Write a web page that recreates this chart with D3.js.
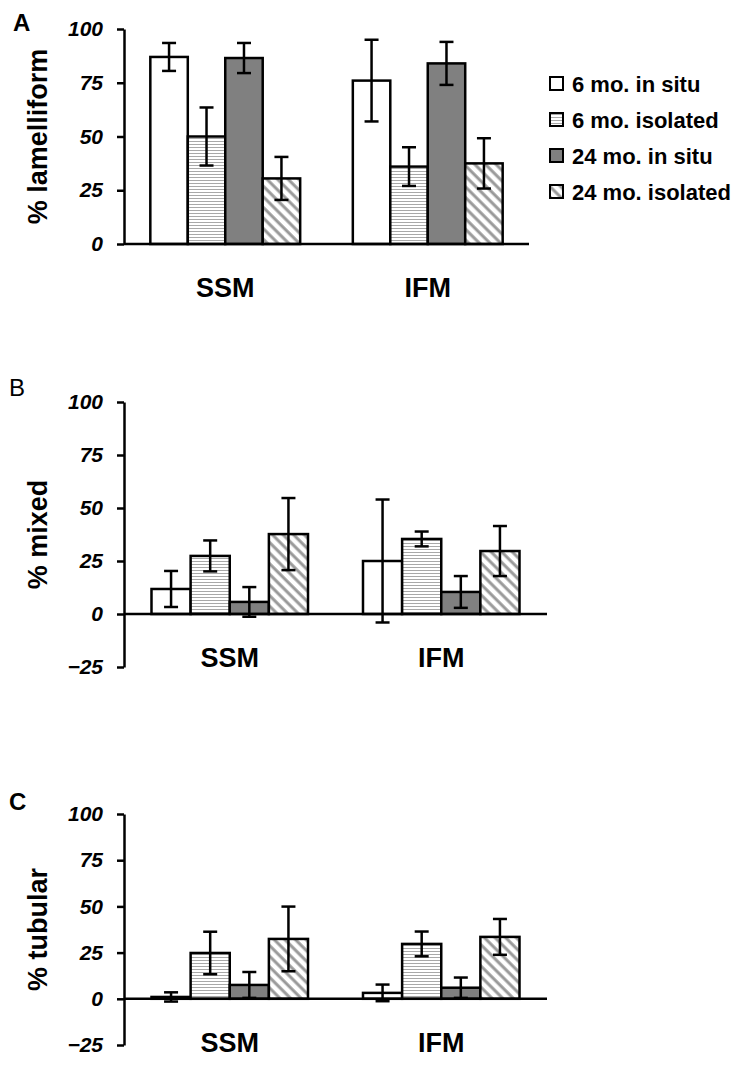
<!DOCTYPE html>
<html>
<head>
<meta charset="utf-8">
<script src="https://cdn.jsdelivr.net/npm/d3@7"></script>
<style>
  html, body { margin: 0; padding: 0; background: #fff; }
  svg { display: block; font-family: "Liberation Sans", Arial, sans-serif; }
</style>
</head>
<body>
<svg id="chart" width="745" height="1073"></svg>
<script>
// ---- Data ----
const categories = ["SSM", "IFM"];
const seriesNames = ["6 mo. in situ", "6 mo. isolated", "24 mo. in situ", "24 mo. isolated"];
const yTicksA = [0, 25, 50, 75, 100];
const yTicksBC = [-25, 0, 25, 50, 75, 100];

// rows = series (in seriesNames order), columns = categories (SSM, IFM)
const lamelliformMeans = [[87, 76], [50, 36], [86.5, 84], [30.5, 37.5]];
const lamelliformErrors = [[6.5, 19], [13.5, 9], [7, 10], [10, 11.7]];

const mixedMeans = [[11.8, 25], [27.4, 35.4], [5.7, 10.4], [37.7, 29.7]];
const mixedErrors = [[8.5, 29], [7.3, 3.5], [7, 7.5], [17, 11.8]];

const tubularMeans = [[1, 3.2], [24.8, 29.7], [7.5, 6], [32.4, 33.5]];
const tubularErrors = [[2.5, 4.5], [11.5, 6.7], [7, 5.5], [17.5, 9.7]];

// ---- Setup ----
const svg = d3.select("#chart");
const defs = svg.append("defs");

// horizontal stripes
const hp = defs.append("pattern").attr("id", "hstripe")
  .attr("patternUnits", "userSpaceOnUse").attr("width", 6).attr("height", 3);
hp.append("rect").attr("width", 6).attr("height", 3).attr("fill", "#fff");
hp.append("line").attr("x1", 0).attr("x2", 6).attr("y1", 0.5).attr("y2", 0.5)
  .attr("stroke", "#a8a8a8").attr("stroke-width", 1);

// diagonal stripes (top-left to bottom-right)
const dp = defs.append("pattern").attr("id", "dstripe")
  .attr("patternUnits", "userSpaceOnUse").attr("width", 7.5).attr("height", 7.5)
  .attr("patternTransform", "rotate(-45)");
dp.append("rect").attr("width", 7.5).attr("height", 7.5).attr("fill", "#fff");
dp.append("line").attr("x1", 2).attr("x2", 2).attr("y1", 0).attr("y2", 7.5)
  .attr("stroke", "#999").attr("stroke-width", 3);

const fills = ["#ffffff", "url(#hstripe)", "#808080", "url(#dstripe)"];

const FONT = "'Liberation Sans', Arial, sans-serif";

function drawPanel(opts) {
  const { letter, letterBold, title, means, errors, domain, ticks, x0, x1, yTop, yBottom } = opts;
  const g = svg.append("g");

  const y = d3.scaleLinear().domain(domain).range([yBottom, yTop]);
  const x = d3.scaleBand().domain(categories).range([x0, x1]).padding(0);
  const bw = x.bandwidth();
  const pad = bw * 0.13;
  const xs = d3.scaleBand().domain(d3.range(seriesNames.length)).range([pad, bw - pad]).padding(0);

  // bars
  seriesNames.forEach((s, si) => {
    categories.forEach((c, ci) => {
      const v = means[si][ci];
      const bx = x(c) + xs(si);
      g.append("rect")
        .attr("x", bx).attr("width", xs.bandwidth())
        .attr("y", Math.min(y(v), y(0)))
        .attr("height", Math.abs(y(0) - y(v)))
        .attr("fill", fills[si])
        .attr("stroke", "#000").attr("stroke-width", 2.5);
    });
  });

  // x axis line at zero
  g.append("line").attr("x1", x0).attr("x2", x1).attr("y1", y(0)).attr("y2", y(0))
    .attr("stroke", "#000").attr("stroke-width", 2.5);

  // error bars
  seriesNames.forEach((s, si) => {
    categories.forEach((c, ci) => {
      const v = means[si][ci], e = errors[si][ci];
      const cx = x(c) + xs(si) + xs.bandwidth() / 2;
      const capW = 7;
      g.append("line").attr("x1", cx).attr("x2", cx).attr("y1", y(v + e)).attr("y2", y(v - e))
        .attr("stroke", "#000").attr("stroke-width", 2.5);
      [v + e, v - e].forEach(t => {
        g.append("line").attr("x1", cx - capW).attr("x2", cx + capW)
          .attr("y1", y(t)).attr("y2", y(t))
          .attr("stroke", "#000").attr("stroke-width", 2.5);
      });
    });
  });

  // y axis
  const ax = g.append("g").attr("transform", `translate(${x0},0)`)
    .call(d3.axisLeft(y).tickValues(ticks).tickSize(7).tickPadding(14).tickSizeOuter(0));
  ax.select(".domain").attr("stroke", "#000").attr("stroke-width", 2.5);
  ax.selectAll(".tick line").attr("stroke", "#000").attr("stroke-width", 2.5);
  ax.selectAll(".tick text").attr("font-family", FONT).attr("font-size", 21)
    .attr("font-weight", "bold").attr("font-style", "italic").attr("fill", "#000");

  // category labels
  categories.forEach(c => {
    g.append("text").attr("x", x(c) + bw / 2).attr("y", y(0) + 53)
      .attr("text-anchor", "middle").attr("font-family", FONT)
      .attr("font-size", 27).attr("font-weight", "bold").text(c);
  });

  // y title
  const cy = (yTop + yBottom) / 2;
  g.append("text").attr("transform", `translate(38,${cy}) rotate(-90)`)
    .attr("text-anchor", "middle").attr("dominant-baseline", "central")
    .attr("font-family", FONT).attr("font-size", 27).attr("font-weight", "bold").text(title);

  // panel letter
  g.append("text").attr("x", opts.lx).attr("y", opts.ly)
    .attr("font-family", FONT).attr("font-size", 24)
    .attr("font-weight", letterBold ? "bold" : "normal").text(letter);
}

drawPanel({ letter: "A", letterBold: true, lx: 13, ly: 31, title: "% lamelliform",
  means: lamelliformMeans, errors: lamelliformErrors, domain: [0, 100], ticks: yTicksA,
  x0: 124, x1: 529, yTop: 29, yBottom: 244 });

drawPanel({ letter: "B", letterBold: false, lx: 9, ly: 396, title: "% mixed",
  means: mixedMeans, errors: mixedErrors, domain: [-25, 100], ticks: yTicksBC,
  x0: 124, x1: 547, yTop: 402, yBottom: 667 });

drawPanel({ letter: "C", letterBold: true, lx: 9, ly: 810, title: "% tubular",
  means: tubularMeans, errors: tubularErrors, domain: [-25, 100], ticks: yTicksBC,
  x0: 124, x1: 547, yTop: 814, yBottom: 1045 });

// legend
const lg = svg.append("g");
const legendY = [84, 120, 156, 192];
seriesNames.forEach((s, i) => {
  lg.append("rect").attr("x", 550).attr("y", legendY[i] - 7).attr("width", 13).attr("height", 13)
    .attr("fill", fills[i]).attr("stroke", "#000").attr("stroke-width", 2);
  lg.append("text").attr("x", 572).attr("y", legendY[i]).attr("dominant-baseline", "central")
    .attr("font-family", FONT).attr("font-size", 22).attr("font-weight", "bold").text(s);
});
</script>
</body>
</html>
